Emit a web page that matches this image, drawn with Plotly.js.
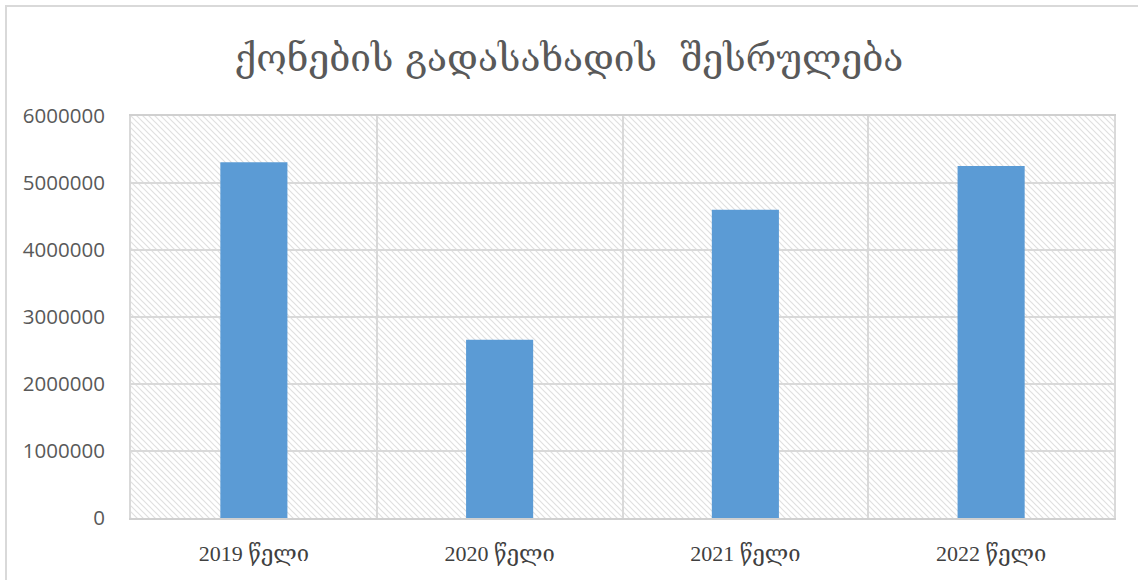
<!DOCTYPE html>
<html>
<head>
<meta charset="utf-8">
<script src="https://cdn.plot.ly/plotly-3.0.1.min.js"></script>
<style>
html,body{margin:0;padding:0;overflow:hidden;background:#fff;}
#wrap{position:relative;width:1138px;height:580px;}
#chart{width:1138px;height:580px;}
#frame{position:absolute;left:5px;top:5px;width:1300px;height:800px;border:2px solid #d9d9d9;pointer-events:none;box-sizing:border-box;}
</style>
</head>
<body>
<div id="wrap"><div id="chart"></div><div id="frame"></div></div>
<script>
const categories = ["2019 წელი", "2020 წელი", "2021 წელი", "2022 წელი"];
const values = [5310000, 2660000, 4600000, 5255000];
const yTicks = [0, 1000000, 2000000, 3000000, 4000000, 5000000, 6000000];
const titleText = "ქონების გადასახადის  შესრულება";

const svg = '<svg xmlns="http://www.w3.org/2000/svg" width="983" height="402">' +
  '<defs><pattern id="p" patternUnits="userSpaceOnUse" width="6" height="6">' +
  '<path d="M0,0 L6,6 M-1,5 L1,7 M5,-1 L7,1" stroke="#e0e0e0" stroke-width="1.2"/>' +
  '</pattern></defs><rect width="983" height="402" fill="#fff"/><rect width="983" height="402" fill="url(#p)"/></svg>';
const bgUri = 'data:image/svg+xml;charset=utf-8,' + encodeURIComponent(svg);

const trace = {
  type: 'bar',
  x: categories,
  y: values,
  marker: {color: '#5B9BD5'},
  hoverinfo: 'x+y'
};

const layout = {
  width: 1138, height: 580,
  margin: {l: 131, r: 24, t: 116, b: 62, pad: 0},
  paper_bgcolor: '#ffffff',
  plot_bgcolor: 'rgba(0,0,0,0)',
  bargap: 0.727,
  showlegend: false,
  title: {
    text: titleText,
    x: 0.5, xanchor: 'center', xref: 'container',
    y: 60, yref: 'container', yanchor: 'middle',
    font: {family: 'DejaVu Serif, DejaVu Sans, serif', size: 37, color: '#595959'}
  },
  xaxis: {
    type: 'category',
    tickson: 'boundaries',
    showgrid: true, gridcolor: '#d9d9d9', gridwidth: 2,
    showline: true, linecolor: '#d0d0d0', linewidth: 2, mirror: true,
    ticks: '', ticklen: 0,
    ticklabelstandoff: 15,
    tickfont: {family: 'Liberation Serif, DejaVu Serif, serif', size: 22, color: '#404040'},
    fixedrange: true
  },
  yaxis: {
    range: [0, 6000000],
    tickvals: yTicks,
    ticktext: yTicks.map(v => String(v)),
    showgrid: true, gridcolor: '#d9d9d9', gridwidth: 2,
    zeroline: false,
    showline: true, linecolor: '#d9d9d9', linewidth: 2, mirror: true,
    ticks: '',
    ticklabelstandoff: 20,
    tickfont: {family: 'Open Sans, Liberation Sans, sans-serif', size: 20.5, color: '#595959'},
    fixedrange: true
  },
  images: [{
    source: bgUri,
    xref: 'paper', yref: 'paper',
    x: 0, y: 1, sizex: 1, sizey: 1,
    xanchor: 'left', yanchor: 'top',
    sizing: 'stretch', layer: 'below'
  }]
};

Plotly.newPlot('chart', [trace], layout, {displayModeBar: false, staticPlot: true});
</script>
</body>
</html>
